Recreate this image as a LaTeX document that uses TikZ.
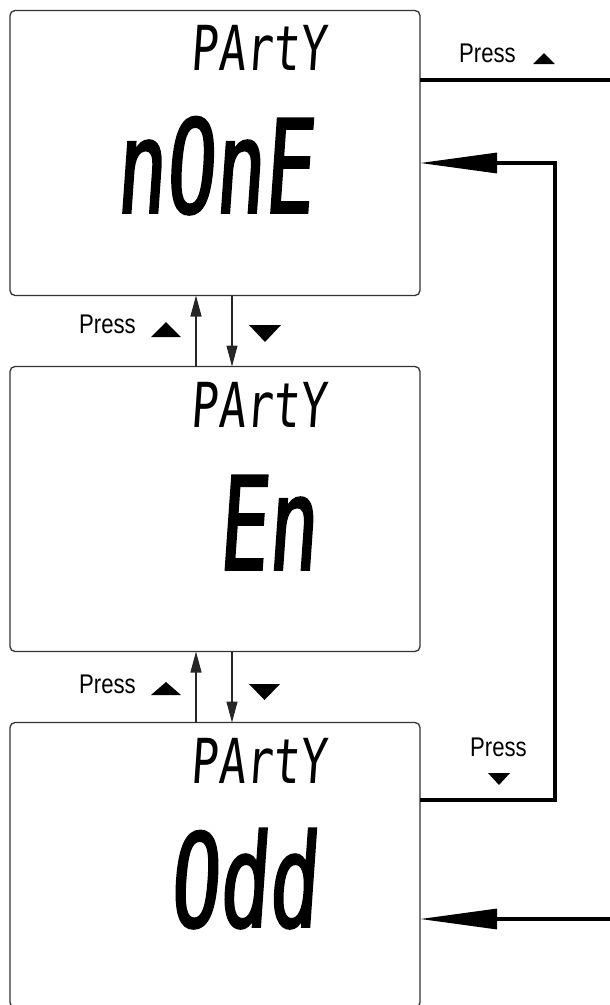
\documentclass[tikz,border=0pt]{standalone}
\usepackage{fontspec}
\setmainfont{Liberation Sans}
\newfontfamily\pressfont[FakeStretch=0.82]{Liberation Sans}
\newfontfamily\lcdbigfont[FakeStretch=0.63,FakeSlant=0.07,FakeBold=1.5]{DejaVu Sans Mono}
\newfontfamily\lcdsmallfont[FakeStretch=0.73,FakeSlant=0.07]{DejaVu Sans Mono}
\usetikzlibrary{arrows.meta}
\begin{document}
\begin{tikzpicture}[x=1pt,y=-1pt,
  lcdbox/.style={draw=black!80, line width=1.3pt, rounded corners=5pt,
    minimum width=410pt, minimum height=285pt, inner sep=0pt, outer sep=0pt},
  bigtxt/.style={anchor=base, inner sep=0pt,
    font={\fontsize{130}{130}\selectfont\lcdbigfont}},
  smalltxt/.style={anchor=base, inner sep=0pt,
    font={\fontsize{62}{62}\selectfont\lcdsmallfont}},
  press/.style={anchor=base west, inner sep=0pt,
    font={\fontsize{27}{27}\selectfont\pressfont}},
  thinarrow/.style={line width=1.1pt, draw=black!85,
    -{Triangle[length=21pt,width=11pt]}},
  thickline/.style={line width=3.2pt, line join=miter},
  bigarrow/.style={-{Triangle[length=77pt,width=20pt]}}
]
\useasboundingbox (0,0) rectangle (610,1005);

% LCD boxes
\node[lcdbox] (b1) at (215,153) {};
\node[lcdbox] (b2) at (215,509) {};
\node[lcdbox] (b3) at (215,865) {};

% LCD texts
\node[smalltxt] (h1) at (259,70) {PArtY};
\node[bigtxt] (t1) at (214,213) {nOnE};
\node[smalltxt] (h2) at (259,427) {PArtY};
\node[bigtxt] (t2) at (267,570) {En};
\node[smalltxt] (h3) at (259,783) {PArtY};
\node[bigtxt] (t3) at (243,927) {Odd};

% vertical connectors
\coordinate (ux) at (196,0);
\coordinate (dx) at (232,0);
\draw[thinarrow] (b2.north -| ux) -- (b1.south -| ux);
\draw[thinarrow] (b1.south -| dx) -- (b2.north -| dx);
\draw[thinarrow] (b3.north -| ux) -- (b2.south -| ux);
\draw[thinarrow] (b2.south -| dx) -- (b3.north -| dx);

\node[press] (p1) at (79,333) {Press};
\fill (151,337) -- (181,337) -- (166,322) -- cycle;
\fill (249,325) -- (281,325) -- (265,342) -- cycle;

\node[press] (p2) at (79,693) {Press};
\fill (151,695) -- (181,695) -- (166,682) -- cycle;
\fill (249,684) -- (280,684) -- (264.5,700) -- cycle;

% right side connectors
\coordinate (exitTop) at (610,80);
\coordinate (enterBot) at (610,919);
\coordinate (loopTop) at (555,163);
\coordinate (loopBot) at (555,800);

\draw[thickline] (exitTop -| b1.east) -- (exitTop);
\draw[thickline,bigarrow] (enterBot) -- (enterBot -| b3.east);
\draw[thickline,bigarrow] (loopBot -| b3.east) -- (loopBot) -- (loopTop) -- (loopTop -| b1.east);

\node[press] (p3) at (459,62) {Press};
\fill (533,64) -- (555,64) -- (544,53) -- cycle;

\node[press] (p4) at (470,756) {Press};
\fill (488,773) -- (510,773) -- (499,785) -- cycle;
\end{tikzpicture}
\end{document}
